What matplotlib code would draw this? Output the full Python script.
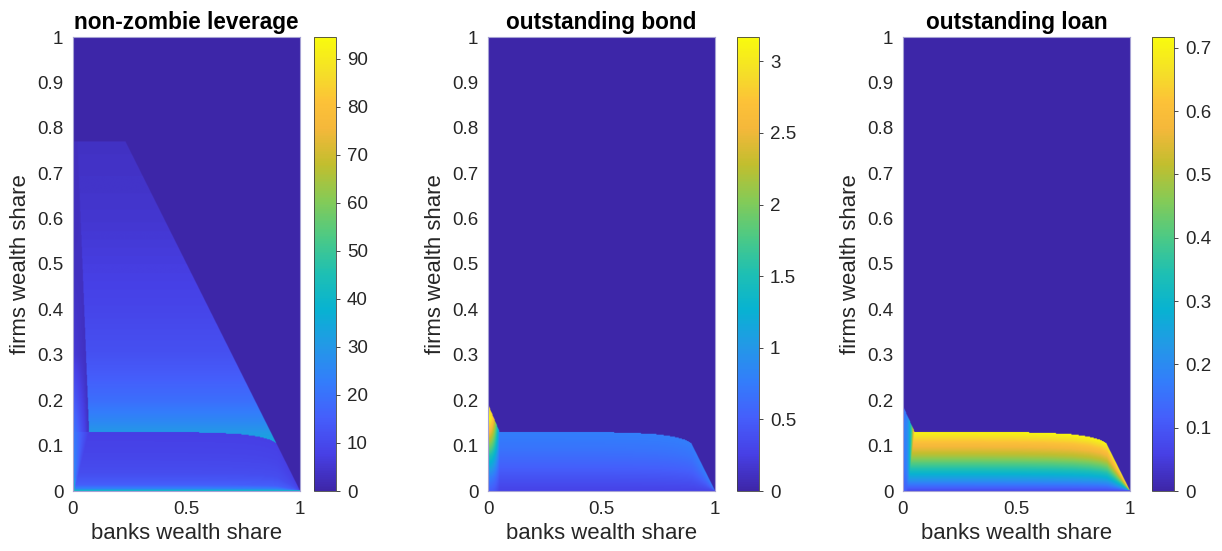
import numpy as np
import matplotlib
matplotlib.use("Agg")
import matplotlib.pyplot as plt
from matplotlib.colors import LinearSegmentedColormap
from matplotlib.ticker import FuncFormatter

plt.rcParams['font.family'] = ['Liberation Sans', 'DejaVu Sans']

# parula-like colormap anchors
parula_pos = [0.00, 0.08, 0.16, 0.24, 0.32, 0.40, 0.48, 0.56, 0.64, 0.72, 0.80, 0.86, 0.92, 1.00]
parula_rgb = [(0.243, 0.150, 0.660), (0.278, 0.250, 0.900), (0.270, 0.370, 0.985),
              (0.200, 0.490, 0.985), (0.135, 0.600, 0.905), (0.030, 0.700, 0.820),
              (0.120, 0.750, 0.700), (0.300, 0.790, 0.520), (0.520, 0.795, 0.340),
              (0.760, 0.745, 0.180), (0.960, 0.720, 0.230), (0.990, 0.760, 0.220),
              (0.960, 0.870, 0.160), (0.976, 0.983, 0.054)]
parula = LinearSegmentedColormap.from_list("parula", list(zip(parula_pos, parula_rgb)), N=256)

# top edge of the low band (firms share as a function of banks share)
top_x = [0.05, 0.30, 0.50, 0.65, 0.75, 0.82, 0.87, 0.90, 1.00]
top_y = [0.130, 0.130, 0.129, 0.127, 0.124, 0.119, 0.112, 0.104, 0.0]

# non-zombie leverage
lev_up_y = [0.10, 0.13, 0.15, 0.20, 0.25, 0.30, 0.40, 0.50, 0.60, 0.70, 0.77]
lev_up_v = [36, 30, 26, 19, 15, 12, 9, 7, 5, 4, 3.5]
lev_low_s = [0, 0.03, 0.10, 0.30, 0.60, 1.0]
lev_low_v = [40, 25, 15, 11, 9, 7.5]
lev_edge_y = [0, 0.01, 0.03, 0.08, 0.13, 0.20, 0.30, 0.50, 0.77]
lev_edge_v = [94, 55, 30, 25, 22, 15, 6, 3, 2.5]
lev_left_y = [0.13, 0.77]
lev_left_x = [0.07, 0.02]
lev_strip_v = 3
lev_cap = 0.77

# outstanding bond
bond_s = [0, 0.2, 0.45, 0.7, 0.9, 1.0]
bond_v = [0.28, 0.40, 0.55, 0.68, 0.75, 0.78]
bond_edge_y = [0, 0.03, 0.05, 0.075, 0.10, 0.13, 0.16, 0.19]
bond_edge_v = [0.5, 0.8, 1.1, 1.5, 2.0, 2.6, 3.15, 2.8]
bond_spike_x = [0, 0.05]
bond_spike_y = [0.19, 0.13]

# outstanding loan
loan_s = [0, 0.15, 0.30, 0.48, 0.60, 0.80, 1.0]
loan_v = [0.08, 0.20, 0.30, 0.42, 0.50, 0.60, 0.71]
loan_edge_y = [0, 0.05, 0.13, 0.19]
loan_edge_v = [0.12, 0.16, 0.18, 0.15]
loan_spike_x = [0, 0.05]
loan_spike_y = [0.186, 0.13]

titles = ["non-zombie leverage", "outstanding bond", "outstanding loan"]
vmaxs = [94.5, 3.17, 0.717]
cb_ticks = [np.arange(0, 91, 10), np.arange(0, 3.01, 0.5), np.arange(0, 0.71, 0.1)]

n = 500
g = np.linspace(0, 1, n)
X, Y = np.meshgrid(g, g)
inside = X + Y <= 1.0
top = np.maximum(np.interp(X, top_x, top_y), 1e-6)
s = np.clip(Y / top, 0, 1)

# leverage field
Z1 = np.zeros_like(X)
base1 = np.interp(s, lev_low_s, lev_low_v)
edge1 = np.interp(Y, lev_edge_y, lev_edge_v)
xw = np.interp(Y, [0, 0.13], [0.005, 0.07])
t = np.clip(X / xw, 0, 1)
low = inside & (Y <= top)
Z1[low] = (edge1 * (1 - t) + base1 * t)[low]
xl = np.interp(Y, lev_left_y, lev_left_x)
tu = np.clip(X / xl, 0, 1)
upv = np.interp(Y, lev_up_y, lev_up_v)
strip = edge1 * (1 - tu) + lev_strip_v * tu
up = inside & (Y > top) & (Y <= lev_cap)
Z1[up] = np.where(X >= xl, upv, strip)[up]

# bond field
base2 = np.interp(s, bond_s, bond_v)
edge2 = np.interp(Y, bond_edge_y, bond_edge_v)
spike2 = np.interp(X, bond_spike_x, bond_spike_y, right=0)
t2 = np.clip(X / 0.05, 0, 1) ** 2
reg2 = inside & (Y <= np.maximum(top, spike2))
Z2 = np.where(reg2, edge2 * (1 - t2) + base2 * t2, 0)

# loan field
base3 = np.interp(s, loan_s, loan_v)
edge3 = np.interp(Y, loan_edge_y, loan_edge_v)
spike3 = np.interp(X, loan_spike_x, loan_spike_y, right=0)
xw3 = np.interp(Y, [0, 0.13], [0.02, 0.05])
t3 = np.clip(X / xw3, 0, 1) ** 3
reg3 = inside & (Y <= np.maximum(top, spike3))
Z3 = np.where(reg3, edge3 * (1 - t3) + base3 * t3, 0)

fields = [Z1, Z2, Z3]

W, H = 1222, 551
fig = plt.figure(figsize=(W / 100, H / 100), dpi=100)
ax_left = [73, 488, 903]
cb_left = [314, 737, 1152]
txt = '#262626'

for i in range(3):
    ax = fig.add_axes([ax_left[i] / W, 60 / H, 227 / W, 454 / H])
    im = ax.imshow(fields[i], origin='lower', extent=[0, 1, 0, 1], aspect='auto',
                   cmap=parula, vmin=0, vmax=vmaxs[i], interpolation='bilinear')
    ax.set_xlim(0, 1)
    ax.set_ylim(0, 1)
    ax.set_xticks([0, 0.5, 1])
    ax.set_yticks(np.round(np.arange(0, 1.01, 0.1), 1))
    ax.xaxis.set_major_formatter(FuncFormatter(lambda v, p: f"{v:g}"))
    ax.yaxis.set_major_formatter(FuncFormatter(lambda v, p: f"{v:g}"))
    ax.tick_params(length=0, labelsize=13.5, colors=txt, pad=7)
    for sp in ax.spines.values():
        sp.set_color('#a6a2d4')
        sp.set_linewidth(0.8)
    ax.set_xlabel("banks wealth share", fontsize=15.9, color=txt, labelpad=4)
    ax.set_ylabel("firms wealth share", fontsize=15.9, color=txt, labelpad=4)
    ax.set_title(titles[i], fontsize=16.3, fontweight='bold', color='black', pad=6)

    cax = fig.add_axes([cb_left[i] / W, 60 / H, 22 / W, 454 / H])
    cb = fig.colorbar(im, cax=cax)
    cb.set_ticks(cb_ticks[i])
    cb.ax.yaxis.set_major_formatter(FuncFormatter(lambda v, p: f"{round(v, 2):g}"))
    cb.ax.tick_params(direction='out', length=3, width=0.6, labelsize=13.5, colors=txt, pad=5)
    cb.outline.set_edgecolor('#404040')
    cb.outline.set_linewidth(0.6)

fig.savefig("out.png", dpi=100)
